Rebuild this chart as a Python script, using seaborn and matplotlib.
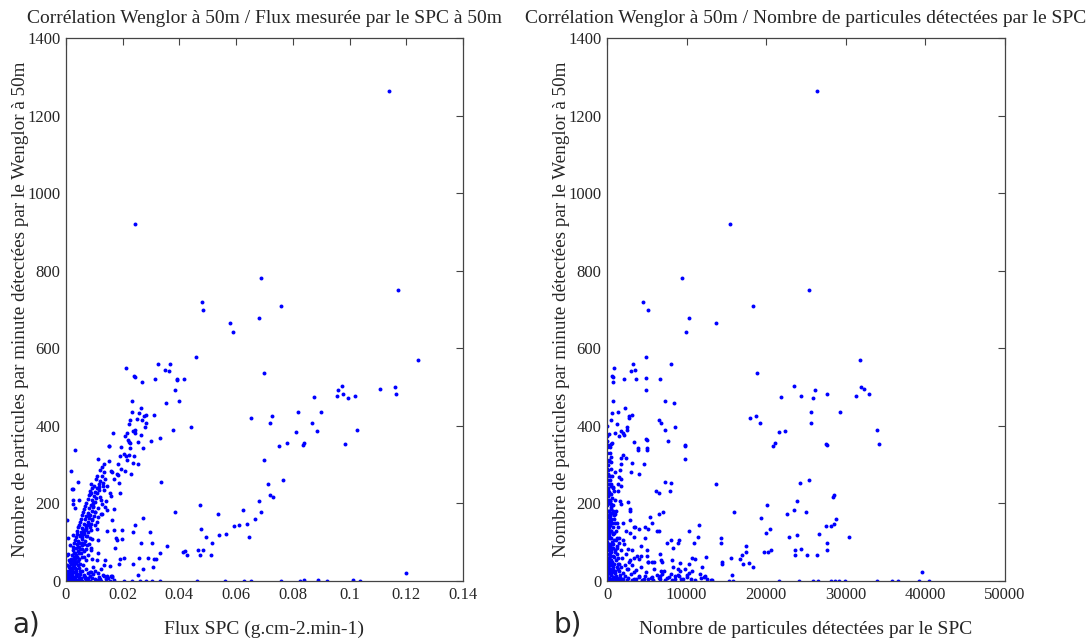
import matplotlib
matplotlib.use("Agg")
import matplotlib.pyplot as plt
import pandas as pd
import seaborn as sns

# ------------------------------------------------------------------
# Donnees (x, y)
# ------------------------------------------------------------------
# a) Flux SPC (g.cm-2.min-1) / particules Wenglor par minute
flux_haut = [
    (0.1140, 1263), (0.0243, 920), (0.0689, 781), (0.1172, 749), (0.0480, 719),
    (0.0484, 699), (0.0757, 709), (0.0578, 665), (0.0589, 642), (0.0681, 679),
    (0.1242, 569), (0.0698, 537), (0.0460, 577), (0.0213, 548), (0.0239, 529),
    (0.0244, 526), (0.0268, 513), (0.0323, 559), (0.0365, 559), (0.0349, 545),
    (0.0363, 541), (0.0314, 520), (0.0390, 522), (0.0391, 519), (0.0415, 520),
    (0.0386, 493), (0.0398, 463), (0.0351, 460), (0.0233, 463), (0.0266, 447),
    (0.0231, 435), (0.0257, 433), (0.0275, 425), (0.0281, 427), (0.0311, 427),
    (0.0226, 416), (0.0250, 417), (0.0268, 416), (0.0283, 408), (0.0222, 404),
    (0.0280, 396), (0.0236, 388), (0.0243, 389), (0.0243, 381), (0.0165, 381),
    (0.0214, 381), (0.0264, 376), (0.0208, 375), (0.0218, 363), (0.0222, 359),
    (0.0226, 355), (0.0255, 358), (0.0301, 361), (0.0332, 368), (0.0378, 389),
    (0.0442, 396), (0.0152, 349), (0.0195, 346), (0.0224, 342), (0.0270, 342),
    (0.0030, 339), (0.0652, 419), (0.0726, 426), (0.0718, 408), (0.0818, 437),
    (0.0875, 474), (0.0901, 435), (0.0868, 408), (0.0811, 385), (0.0885, 388),
    (0.0751, 349), (0.0780, 355), (0.0835, 351), (0.0840, 355), (0.0955, 477),
    (0.0959, 493), (0.0974, 504), (0.0978, 481), (0.0993, 472), (0.1019, 478),
    (0.1027, 390), (0.0984, 354), (0.1107, 495), (0.1159, 500), (0.1164, 481),
]

flux_bas = [
    (0.0699, 311), (0.0713, 251), (0.0767, 260), (0.0720, 222), (0.0731, 217),
    (0.0679, 205), (0.0689, 178), (0.0668, 159), (0.0640, 146), (0.0610, 144),
    (0.0592, 141), (0.0623, 183), (0.0644, 114), (0.0564, 122), (0.0541, 119),
    (0.0535, 173), (0.0492, 113), (0.0476, 133), (0.0471, 195), (0.0383, 179),
    (0.0515, 99), (0.0510, 68), (0.0483, 81), (0.0471, 66), (0.0465, 79),
    (0.0428, 68), (0.0421, 78), (0.0412, 74), (0.0355, 89), (0.0331, 72),
    (0.0335, 256), (0.0272, 162), (0.0244, 145), (0.0297, 126), (0.0266, 99),
    (0.0305, 99), (0.0238, 126), (0.0257, 60), (0.0289, 60), (0.0310, 56),
    (0.0317, 56), (0.0235, 44), (0.0271, 30), (0.0306, 35), (0.0255, 15),
    (0.0203, 60), (0.0190, 57), (0.0187, 45), (0.0199, 108), (0.0196, 132),
    (0.0175, 111), (0.0172, 85), (0.0180, 105), (0.0171, 131), (0.0163, 156),
    (0.0171, 186), (0.0146, 130), (0.0159, 218), (0.0153, 348), (0.0114, 315),
    (0.0153, 309), (0.0189, 321), (0.0203, 328), (0.0210, 321), (0.0223, 326),
    (0.0239, 321), (0.0235, 305), (0.0253, 302), (0.0214, 313), (0.0183, 301),
    (0.0157, 284), (0.0163, 282), (0.0194, 289), (0.0209, 284), (0.0228, 275),
    (0.0180, 277), (0.0169, 262), (0.0187, 253), (0.0182, 274), (0.0016, 284),
    (0.0041, 256), (0.0087, 251), (0.0130, 244), (0.0143, 244), (0.0118, 243),
    (0.0134, 234), (0.0155, 228), (0.0191, 228), (0.0084, 224), (0.0046, 210),
    (0.0020, 236), (0.0025, 236), (0.0023, 209), (0.0023, 198), (0.0030, 188),
    (0.0121, 217), (0.0096, 202), (0.0128, 198), (0.0141, 205), (0.0137, 190),
    (0.0146, 183), (0.0103, 178), (0.0123, 173), (0.0096, 190), (0.0114, 166),
    (0.0128, 174), (0.0080, 171), (0.0093, 159), (0.0109, 152), (0.0102, 144),
    (0.0082, 147), (0.0071, 137), (0.0089, 132), (0.0109, 135), (0.0061, 130),
    (0.0050, 117), (0.0071, 115), (0.0093, 108), (0.0112, 106), (0.0080, 96),
    (0.0057, 99), (0.0043, 87), (0.0071, 82), (0.0089, 79), (0.0112, 72),
    (0.0093, 58), (0.0109, 53), (0.0134, 41), (0.0139, 53), (0.0155, 38),
    (0.0123, 31), (0.0146, 14), (0.0157, 14), (0.0162, 10), (0.0134, 12),
    (0.0112, 21), (0.0089, 22), (0.0084, 12), (0.0068, 10), (0.0039, 62),
    (0.0027, 72), (0.0020, 55), (0.0009, 36), (0.0007, 111), (0.0002, 156),
    (0.0005, 68), (0.1200, 21),
]

flux_amas = [
    (0.0002, 3), (0.0004, 9), (0.0006, 2), (0.0007, 17), (0.0009, 6),
    (0.0011, 24), (0.0012, 1), (0.0013, 12), (0.0014, 33), (0.0016, 8),
    (0.0017, 21), (0.0018, 44), (0.0019, 4), (0.0021, 29), (0.0022, 14),
    (0.0023, 52), (0.0024, 37), (0.0026, 6), (0.0027, 61), (0.0028, 22),
    (0.0029, 46), (0.0031, 73), (0.0032, 11), (0.0033, 57), (0.0034, 31),
    (0.0036, 84), (0.0037, 66), (0.0038, 19), (0.0039, 95), (0.0041, 42),
    (0.0042, 77), (0.0043, 103), (0.0044, 3), (0.0046, 88), (0.0047, 58),
    (0.0048, 118), (0.0049, 27), (0.0051, 97), (0.0052, 126), (0.0053, 71),
    (0.0054, 9), (0.0056, 109), (0.0057, 137), (0.0058, 83), (0.0059, 41),
    (0.0061, 121), (0.0062, 148), (0.0063, 96), (0.0064, 15), (0.0066, 132),
    (0.0067, 159), (0.0068, 104), (0.0069, 55), (0.0071, 141), (0.0072, 168),
    (0.0073, 117), (0.0074, 5), (0.0076, 153), (0.0077, 176), (0.0078, 126),
    (0.0079, 68), (0.0081, 162), (0.0082, 187), (0.0083, 139), (0.0084, 23),
    (0.0086, 171), (0.0087, 197), (0.0088, 148), (0.0089, 86), (0.0091, 181),
    (0.0092, 208), (0.0093, 157), (0.0095, 193), (0.0096, 36), (0.0097, 219),
    (0.0098, 168), (0.0101, 204), (0.0102, 229), (0.0104, 177), (0.0106, 214),
    (0.0108, 241), (0.0111, 226), (0.0113, 188), (0.0116, 249), (0.0118, 235),
    (0.0121, 258), (0.0124, 208), (0.0127, 271), (0.0131, 252), (0.0135, 282),
    (0.0139, 264), (0.0015, 92), (0.0025, 118), (0.0035, 47), (0.0045, 33),
    (0.0055, 62), (0.0065, 78), (0.0075, 92), (0.0085, 110), (0.0010, 55),
    (0.0005, 40), (0.0008, 70), (0.0030, 5), (0.0050, 18), (0.0070, 30),
    (0.0005, 0), (0.0010, 4), (0.0015, 1), (0.0022, 7), (0.0030, 0),
    (0.0036, 12), (0.0041, 2), (0.0050, 6), (0.0058, 0), (0.0063, 14),
    (0.0070, 3), (0.0078, 9), (0.0085, 1), (0.0094, 18), (0.0101, 5),
    (0.0108, 2), (0.0117, 11), (0.0125, 0), (0.0132, 16), (0.0140, 4),
    (0.0148, 8), (0.0156, 1), (0.0163, 13), (0.0171, 3),
]

# zone la plus dense, pres de l'origine
flux_coeur = [
    (0.0003, 14), (0.0006, 27), (0.0008, 11), (0.0010, 38), (0.0012, 19),
    (0.0013, 48), (0.0015, 26), (0.0017, 58), (0.0018, 31), (0.0020, 68),
    (0.0021, 16), (0.0023, 79), (0.0024, 24), (0.0026, 88), (0.0027, 41),
    (0.0029, 99), (0.0030, 34), (0.0032, 106), (0.0033, 49), (0.0035, 113),
    (0.0036, 26), (0.0038, 121), (0.0039, 63), (0.0040, 129), (0.0042, 52),
    (0.0044, 138), (0.0045, 71), (0.0047, 144), (0.0048, 82), (0.0050, 152),
    (0.0051, 44), (0.0053, 161), (0.0055, 92), (0.0057, 170), (0.0058, 113),
    (0.0060, 178), (0.0062, 62), (0.0064, 186), (0.0065, 123), (0.0068, 194),
    (0.0070, 134), (0.0072, 201), (0.0074, 144), (0.0076, 212), (0.0080, 222),
    (0.0084, 232), (0.0088, 226), (0.0093, 239), (0.0099, 246), (0.0105, 262),
    (0.0110, 270), (0.0119, 286), (0.0126, 293), (0.0133, 301), (0.0011, 10),
    (0.0019, 13), (0.0028, 9), (0.0034, 20), (0.0046, 10), (0.0056, 25),
    (0.0067, 8), (0.0077, 20), (0.0090, 7), (0.0104, 26), (0.0120, 6),
]

flux_axe = [
    (0.0205, 0), (0.0232, 0), (0.0262, 0), (0.0282, 0), (0.0305, 0),
    (0.0330, 0), (0.0462, 0), (0.0560, 0), (0.0628, 0), (0.0654, 0),
    (0.0758, 0), (0.0824, 0), (0.0840, 2), (0.0890, 3), (0.0922, 0),
    (0.1013, 3), (0.1038, 0),
]

# b) Nombre de particules SPC / particules Wenglor par minute
npart_haut = [
    (26400, 1263), (15400, 920), (9400, 781), (25350, 749), (4517, 719),
    (5127, 699), (18350, 709), (13670, 665), (9890, 642), (10290, 679),
    (31820, 569), (18800, 537), (4840, 577), (895, 548), (650, 529),
    (730, 526), (730, 513), (3255, 559), (8100, 559), (3500, 545),
    (3050, 541), (2075, 520), (4840, 523), (6710, 520), (3660, 520),
    (4840, 493), (7320, 463), (8420, 460), (730, 463), (2320, 447),
    (1420, 435), (610, 433), (2810, 425), (3170, 427), (2770, 419),
    (530, 416), (6470, 416), (6800, 408), (1300, 404), (8590, 396),
    (2480, 396), (2560, 389), (1790, 388), (7240, 390), (1060, 381),
    (1550, 375), (1950, 381), (2160, 376), (3340, 358), (4840, 367),
    (5000, 363), (7690, 361), (650, 357), (490, 353), (410, 346),
    (3900, 342), (5000, 342), (9850, 350), (17940, 419), (18760, 426),
    (19200, 408), (21800, 474), (23440, 504), (24370, 477), (25880, 472),
    (26160, 493), (27590, 481), (25630, 437), (25630, 408), (29300, 435),
    (21650, 385), (22420, 388), (20910, 349), (21080, 355), (27510, 354),
    (27590, 350), (31330, 478), (31900, 500), (32230, 495), (32920, 481),
    (33940, 390), (34180, 354),
]

npart_bas = [
    (244, 313), (490, 308), (1950, 325), (1790, 316), (2360, 318),
    (1790, 301), (980, 282), (1630, 285), (3010, 282), (3170, 304),
    (4640, 301), (3990, 275), (3910, 339), (5040, 339), (9850, 348),
    (9850, 315), (1460, 268), (1710, 262), (1380, 250), (1790, 244),
    (490, 250), (730, 243), (900, 231), (1380, 231), (1630, 207),
    (1790, 198), (2690, 203), (2850, 186), (2850, 181), (330, 207),
    (490, 198), (730, 181), (1060, 173), (330, 168), (490, 151),
    (1300, 150), (1950, 150), (2930, 157), (3340, 140), (3580, 140),
    (3990, 133), (4800, 140), (5210, 133), (5370, 164), (5620, 150),
    (6270, 130), (6510, 128), (6590, 174), (7000, 178), (6100, 231),
    (6510, 226), (7240, 255), (7900, 231), (7980, 253), (13670, 250),
    (15950, 178), (19370, 162), (20100, 195), (22620, 173), (23440, 183),
    (23930, 205), (25060, 178), (24250, 252), (25390, 260), (28480, 222),
    (28400, 217), (28810, 159), (28080, 142), (28480, 147), (27510, 142),
    (26690, 121), (27590, 97), (27590, 79), (26370, 67), (25150, 67),
    (24410, 82), (23680, 79), (23600, 68), (23850, 118), (22870, 113),
    (30440, 113), (20020, 125), (20430, 133), (20180, 76), (20590, 79),
    (19780, 74), (17420, 91), (17420, 75), (17010, 66), (16690, 57),
    (17090, 43), (17820, 46), (18390, 36), (15620, 59), (15710, 15),
    (14400, 44), (14490, 48), (14320, 111), (14320, 99), (12450, 62),
    (11880, 36), (12210, 10), (11560, 145), (11390, 113), (10340, 128),
    (10900, 99), (10660, 60), (11070, 58), (10250, 44), (9770, 31),
    (10740, 26), (9110, 46), (9110, 27), (8870, 32), (8300, 36),
    (8220, 55), (9030, 106), (8950, 99), (8300, 85), (7570, 99),
    (7980, 106), (6670, 70), (6750, 53), (6920, 48), (6840, 27),
    (6920, 17), (6670, 12), (5860, 50), (5620, 50), (5210, 48),
    (5040, 65), (5040, 80), (4230, 91), (4800, 111), (4310, 65),
    (3990, 56), (3340, 60), (3170, 79), (2600, 82), (2930, 125),
    (3420, 113), (2360, 130), (1950, 106), (1550, 99), (1300, 85),
    (2770, 50), (2600, 31), (3420, 22), (3990, 14), (4800, 14),
    (5620, 10), (7830, 10), (8540, 12), (8950, 15), (10090, 10),
    (10010, 15), (11720, 17), (12370, 12), (39630, 22),
]

npart_amas = [
    (50, 12), (80, 35), (120, 5), (150, 60), (180, 22), (200, 95),
    (220, 140), (240, 48), (260, 180), (280, 8), (300, 230), (310, 115),
    (330, 72), (350, 260), (370, 30), (390, 160), (400, 205), (420, 88),
    (440, 290), (460, 15), (480, 130), (500, 245), (520, 55), (540, 185),
    (560, 320), (580, 100), (600, 40), (620, 215), (640, 150), (660, 270),
    (680, 3), (700, 120), (720, 65), (740, 195), (760, 28), (780, 240),
    (800, 85), (830, 170), (860, 10), (890, 125), (920, 45), (950, 210),
    (980, 75), (1010, 150), (1040, 20), (1080, 105), (1120, 55), (1160, 180),
    (1200, 35), (1250, 90), (1300, 8), (1350, 140), (1400, 60), (1450, 25),
    (1500, 110), (1560, 45), (1620, 15), (1700, 80), (1780, 35), (1850, 5),
    (1930, 60), (2000, 20), (2100, 95), (2200, 40), (2300, 12), (2400, 70),
    (2550, 30), (2700, 8), (2850, 55), (3000, 18), (3200, 42), (3400, 6),
    (3600, 28), (3800, 65), (4000, 10), (4300, 35), (4600, 4), (4900, 22),
    (5200, 48), (5500, 8), (5900, 30), (6300, 15), (6700, 5), (7100, 25),
    (7500, 8), (8000, 18), (8500, 4), (9000, 12), (9600, 6), (10300, 20),
    (11000, 3), (11800, 9), (12600, 5), (20, 330), (30, 290), (25, 250),
    (40, 210), (15, 170), (60, 130), (35, 100), (10, 70), (45, 45),
    (70, 25), (90, 300), (110, 260), (130, 220), (140, 350), (100, 180),
    (160, 110), (190, 380), (210, 310), (230, 90), (250, 145), (270, 60),
    (290, 200), (320, 40), (340, 170), (360, 330), (380, 110), (410, 270),
    (430, 20), (450, 190), (470, 80), (15, 400), (30, 375), (60, 360),
    (85, 240), (120, 150), (175, 275), (265, 120), (345, 65), (505, 160),
    (565, 85), (640, 22), (890, 62), (1110, 12), (1330, 30), (1650, 2),
]

# colonne tres dense au voisinage de x = 0
npart_coeur = [
    (10, 20), (20, 55), (30, 85), (40, 115), (25, 140), (55, 165),
    (15, 195), (45, 225), (35, 270), (65, 310), (20, 345), (90, 20),
    (110, 50), (130, 80), (95, 110), (150, 135), (120, 165), (170, 200),
    (140, 235), (105, 285), (200, 30), (230, 60), (210, 125), (260, 155),
    (240, 210), (280, 250), (300, 25), (320, 90), (350, 130), (375, 175),
    (330, 225), (400, 50), (420, 145), (450, 110), (470, 225), (500, 15),
    (530, 75), (560, 130), (600, 95), (630, 175), (680, 50), (720, 140),
    (760, 95), (810, 35), (850, 105), (900, 160), (950, 25), (1000, 80),
    (1100, 130), (1200, 70), (1300, 110), (1400, 45), (70, 5), (180, 3),
    (350, 6), (540, 2), (760, 8), (980, 4), (1250, 2), (1600, 7),
    (2050, 4), (2500, 2), (3100, 3), (3700, 6), (4400, 2), (5100, 4),
    (5800, 2), (6500, 7), (7300, 3), (8200, 2), (9300, 4), (10600, 6),
]

npart_axe = [
    (13020, 2), (13180, 2), (15380, 0), (15790, 0), (21650, 0),
    (24090, 0), (25880, 0), (26450, 0), (28160, 0), (28650, 0),
    (29140, 0), (29950, 0), (33940, 0), (35810, 0), (36540, 0),
    (39230, 0), (40450, 0),
]

titre_a = "Corrélation Wenglor à 50m / Flux mesurée par le SPC à 50m"
titre_b = "Corrélation Wenglor à 50m / Nombre de particules détectées par le SPC"
label_y = "Nombre de particules par minute détectées par le Wenglor à 50m"
label_xa = "Flux SPC (g.cm-2.min-1)"
label_xb = "Nombre de particules détectées par le SPC"
ticks_xa = [0, 0.02, 0.04, 0.06, 0.08, 0.1, 0.12, 0.14]
ticks_xb = [0, 10000, 20000, 30000, 40000, 50000]
ticks_y = [0, 200, 400, 600, 800, 1000, 1200, 1400]


def en_tableau(*groupes):
    lignes = [p for g in groupes for p in g]
    return pd.DataFrame(lignes, columns=["x", "y"])


sns.set_style("white")
plt.rcParams["font.family"] = ["Liberation Serif", "DejaVu Serif"]

fig = plt.figure(figsize=(10.91, 6.41), dpi=100)
ax_a = fig.add_axes([66 / 1091, 60 / 641, 397 / 1091, 543 / 641])
ax_b = fig.add_axes([607 / 1091, 60 / 641, 398 / 1091, 543 / 641])

panneaux = [
    (ax_a, en_tableau(flux_haut, flux_bas, flux_amas, flux_coeur, flux_axe),
     titre_a, label_xa, ticks_xa,
     ["0", "0.02", "0.04", "0.06", "0.08", "0.1", "0.12", "0.14"], "a)", 12),
    (ax_b, en_tableau(npart_haut, npart_bas, npart_amas, npart_coeur, npart_axe),
     titre_b, label_xb, ticks_xb,
     [str(t) for t in ticks_xb], "b)", 553),
]

for ax, df, titre, lx, tx, tlab, lettre, xl in panneaux:
    sns.scatterplot(data=df, x="x", y="y", ax=ax, color="blue", s=8,
                    marker="o", linewidth=0, legend=False)
    ax.set_xlim(tx[0], tx[-1])
    ax.set_ylim(0, 1400)
    ax.set_xticks(tx)
    ax.set_xticklabels(tlab)
    ax.set_yticks(ticks_y)
    ax.set_yticklabels([str(t) for t in ticks_y])
    ax.tick_params(direction="in", top=True, right=True, length=5, width=0.8,
                   labelsize=12, pad=4, color="#444444")
    for sp in ax.spines.values():
        sp.set_color("#444444")
        sp.set_linewidth(0.9)
    ax.set_title(titre, fontsize=14, pad=11)
    ax.set_xlabel(lx, fontsize=14, labelpad=13)
    ax.set_ylabel(label_y, fontsize=13.8, labelpad=-1)
    fig.text(xl / 1091, 8 / 641, lettre, family=["DejaVu Sans"], fontsize=20)

fig.savefig("out.png", dpi=100)
